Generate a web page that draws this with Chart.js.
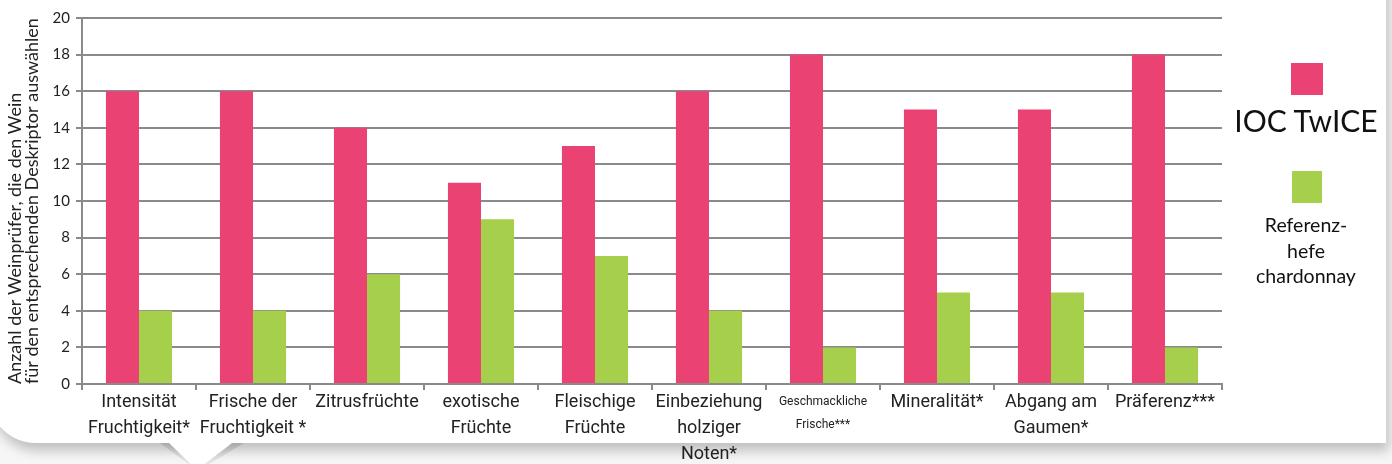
<!DOCTYPE html>
<html>
<head>
<meta charset="utf-8">
<script src="https://cdn.jsdelivr.net/npm/chart.js@4"></script>
<style>
  html, body { margin: 0; padding: 0; }
  body { width: 1392px; height: 464px; overflow: hidden; position: relative; background: #f6f6f6; }
  #card {
    position: absolute; left: -10px; top: -30px; width: 1396px; height: 473px;
    background: #fff; border-bottom-left-radius: 45px;
    box-shadow: 3px 8px 12px rgba(0,0,0,0.22);
  }
  #tail {
    position: absolute; left: 166px; top: 440px; width: 70px; height: 30px;
    background: #fff; clip-path: polygon(0 0, 100% 0, 44% 100%);
  }
  #tailShade {
    position: absolute; left: 160px; top: 443px; width: 84px; height: 28px;
    background: linear-gradient(#d6d6d6, #ececec); clip-path: polygon(0 0, 100% 0, 45% 100%);
  }
  canvas { position: absolute; left: 0; top: 0; }
  .legend { position: absolute; text-align: center; color: #111; }
  .sw { position: absolute; }
</style>
</head>
<body>
<div id="tailShade"></div>
<div id="card"></div>
<div id="tail"></div>
<canvas id="c" width="1392" height="464"></canvas>
<div id="legend"></div>
<script>
const categories = [
  ["Intensität", "Fruchtigkeit*"],
  ["Frische der", "Fruchtigkeit *"],
  ["Zitrusfrüchte"],
  ["exotische", "Früchte"],
  ["Fleischige", "Früchte"],
  ["Einbeziehung", "holziger", "Noten*"],
  ["Geschmackliche", "Frische***"],
  ["Mineralität*"],
  ["Abgang am", "Gaumen*"],
  ["Präferenz***"]
];
const iocTwice = [16, 16, 14, 11, 13, 16, 18, 15, 15, 18];
const referenz = [4, 4, 6, 9, 7, 4, 2, 5, 5, 2];
const seriesNames = ["IOC TwICE", "Referenz-\nhefe\nchardonnay"];
const seriesColors = ["#ea4272", "#a6cf4b"];
const yTitle = ["Anzahl der Weinprüfer, die den Wein", "für den entsprechenden Deskriptor auswählen"];

const grey = "#8a8a8a";

new Chart(document.getElementById("c"), {
  type: "bar",
  data: {
    labels: categories,
    datasets: [
      { label: seriesNames[0], data: iocTwice, backgroundColor: seriesColors[0] },
      { label: seriesNames[1], data: referenz, backgroundColor: seriesColors[1] }
    ]
  },
  options: {
    responsive: false,
    animation: false,
    categoryPercentage: 0.58,
    barPercentage: 1,
    layout: { padding: { left: 2, right: 170, top: 18, bottom: 0 } },
    plugins: { legend: { display: false }, tooltip: { enabled: false } },
    scales: {
      x: {
        afterFit: s => { s.height = 80; },
        grid: { drawOnChartArea: false, color: grey, lineWidth: 2, tickLength: 6 },
        border: { color: grey, width: 2 },
        ticks: {
          autoSkip: false, maxRotation: 0, minRotation: 0, padding: 0, color: "#222",
          font: ctx => ctx.index === 6
            ? { family: "Roboto", size: 12, lineHeight: 1.95 }
            : { family: "Roboto", size: 18, lineHeight: 1.44 }
        }
      },
      y: {
        min: 0, max: 20,
        afterFit: s => { s.width = 80; },
        grid: { color: grey, lineWidth: 2, tickLength: 6 },
        border: { color: grey, width: 2 },
        ticks: { stepSize: 2, padding: 6, color: "#222", font: { family: "Lato", size: 15 } },
        title: {
          display: true, text: yTitle, align: "start", color: "#222",
          font: { family: "Lato", size: 18, lineHeight: 0.92 },
          padding: { top: 5, bottom: 0 }
        }
      }
    }
  }
});

// legend on the right, built from the series arrays
const legend = document.getElementById("legend");
const swatches = [
  { left: 1291, top: 63, w: 32, h: 32 },
  { left: 1292, top: 171, w: 30, h: 32 }
];
const texts = [
  { top: 101, size: 30, lh: 38 },
  { top: 212, size: 19.5, lh: 25.5 }
];
seriesNames.forEach((name, i) => {
  const sw = document.createElement("div");
  sw.className = "sw";
  Object.assign(sw.style, {
    left: swatches[i].left + "px", top: swatches[i].top + "px",
    width: swatches[i].w + "px", height: swatches[i].h + "px",
    background: seriesColors[i]
  });
  legend.appendChild(sw);
  const t = document.createElement("div");
  t.className = "legend";
  Object.assign(t.style, {
    left: "1226px", width: "160px", top: texts[i].top + "px",
    fontFamily: "Lato", fontSize: texts[i].size + "px", lineHeight: texts[i].lh + "px",
    whiteSpace: "pre"
  });
  t.textContent = name;
  legend.appendChild(t);
});
</script>
</body>
</html>
